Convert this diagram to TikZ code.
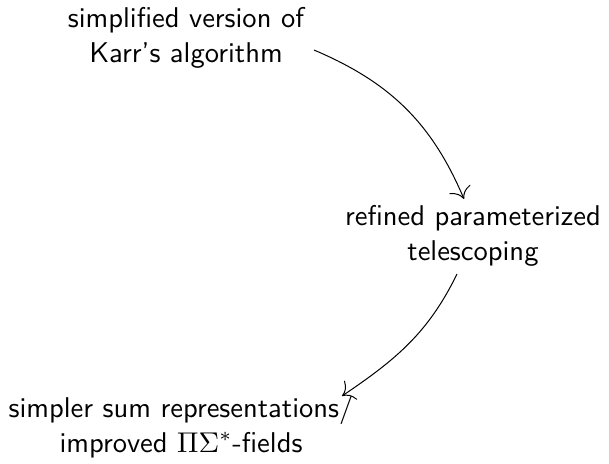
\documentclass[tikz,border=0pt]{standalone}
\usetikzlibrary{calc,arrows.meta}
\begin{document}
\begin{tikzpicture}[x=0.35pt,y=-0.35pt,
  lbl/.style={align=center,font=\sffamily,inner sep=0pt},
  conn/.style={-{To[scale=1.6]},line width=0.35pt}]
\useasboundingbox (0,0) rectangle (609,463);
\node[lbl] (n1) at (186,38) {simplified version of\\Karr's algorithm};
\node[lbl] (n2) at (473,236) {refined parameterized\\telescoping};
\node[lbl] (n3) at (181,427) {simpler sum representations/\\improved $\Pi\Sigma^*$-fields};
\draw[conn] ($(n1)+(128,12)$) to[out=-23,in=113] ($(n2)+(-9,-37)$);
\draw[conn] ($(n2)+(-16,38)$) to[out=-116,in=34] ($(n3)+(161,-31)$);
\end{tikzpicture}
\end{document}
